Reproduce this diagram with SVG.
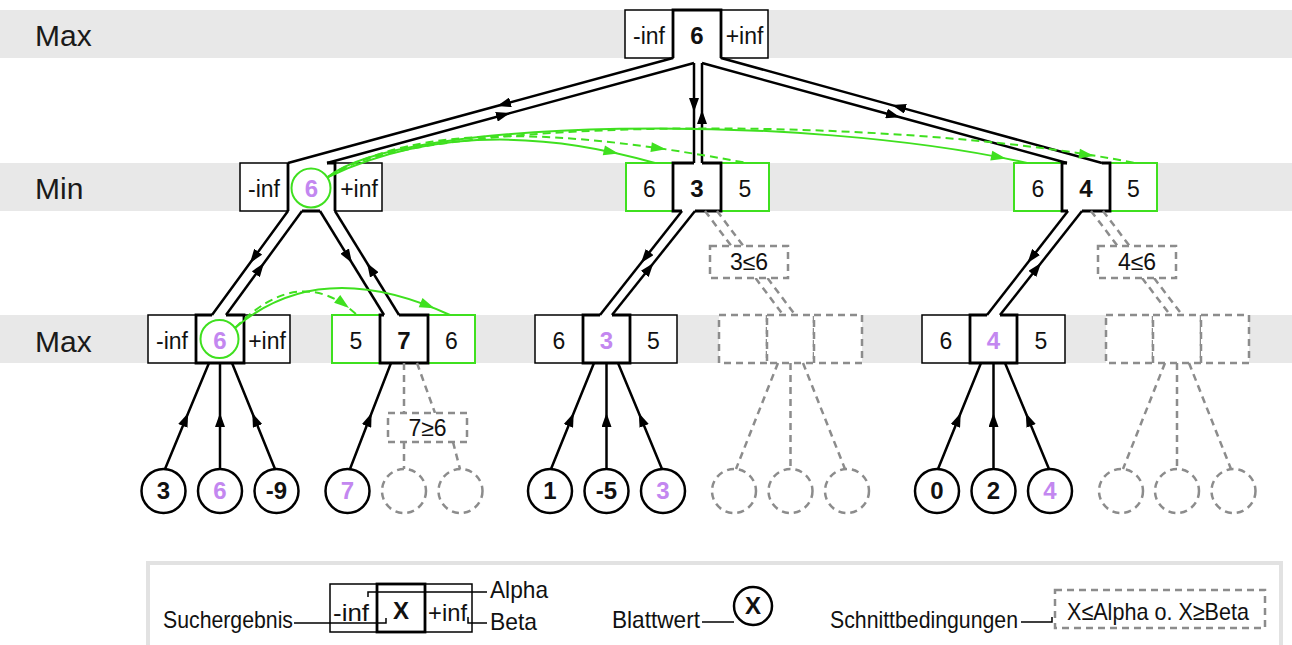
<svg xmlns="http://www.w3.org/2000/svg" xmlns:xlink="http://www.w3.org/1999/xlink" width="1292" height="645" viewBox="0 0 1292 645">
<style>
.band{fill:#e8e8e8}
.box{fill:#fff;stroke:#000;stroke-width:1.5}
.gbox{fill:#fff;stroke:#3fe01f;stroke-width:2}
.wf{fill:#fff}
.cb{fill:none;stroke:#000;stroke-width:2.8}
.dbox{fill:#fff;stroke:#8c8c8c;stroke-width:2.5;stroke-dasharray:7 5}
.t{font-family:"Liberation Sans",Arial,sans-serif;font-size:23px;text-anchor:middle;fill:#111}
.b{font-weight:bold;font-size:24px}
.p{fill:#c387f0}
.lbl{font-family:"Liberation Sans",Arial,sans-serif;font-size:30px;fill:#1a1a1a}
.lg{font-family:"Liberation Sans",Arial,sans-serif;font-size:24px;fill:#111}
.wall{fill:none;stroke:#000;stroke-width:2.5}
.leaf{fill:#fff;stroke:#000;stroke-width:2.5}
.dleaf{fill:#fff;stroke:#8c8c8c;stroke-width:2.5;stroke-dasharray:7 5}
.dl{fill:none;stroke:#8c8c8c;stroke-width:2.5;stroke-dasharray:7 5}
.g{fill:none;stroke:#3fe01f;stroke-width:2}
.gd{fill:none;stroke:#3fe01f;stroke-width:2;stroke-dasharray:8 5}
.thin{fill:none;stroke:#000;stroke-width:1.5}
</style>
<defs>
<marker id="ah" viewBox="0 0 14 10" refX="14" refY="5" markerWidth="14" markerHeight="10" markerUnits="userSpaceOnUse" orient="auto"><path d="M0,0 L14,5 L0,10 z" fill="#000"/></marker>
<path id="ga" d="M0,0 L-15,-5 L-15,5 z" fill="#3fe01f"/>
</defs>

<g id="bands">
<rect class="band" x="0" y="10" width="1292" height="48"/>
<rect class="band" x="0" y="163" width="1292" height="48"/>
<rect class="band" x="0" y="315" width="1292" height="48"/>
<text class="lbl" x="35" y="46">Max</text>
<text class="lbl" x="35" y="199">Min</text>
<text class="lbl" x="35" y="352">Max</text>
</g>

<g id="n-root">
<rect class="box" x="625" y="10" width="48" height="48"/>
<rect class="box" x="721" y="10" width="47" height="48"/>
<rect class="wf" x="673" y="10" width="48" height="48"/>
<path class="cb" d="M673,58 V10 H721 V58"/>
<text class="t" x="649" y="44">-inf</text>
<text class="t b" x="697" y="44">6</text>
<text class="t" x="744.5" y="44">+inf</text>
</g>

<g id="n-min-left">
<rect class="box" x="240" y="163" width="48" height="48"/>
<rect class="box" x="335" y="163" width="47" height="48"/>
<rect class="wf" x="288" y="163" width="47" height="48"/>
<path class="cb" d="M327,163 H335 V211 M320,211 H302 M288,211 V163"/>
<circle cx="311" cy="188" r="19.5" fill="none" stroke="#3fe01f" stroke-width="2"/>
<text class="t" x="264" y="197">-inf</text>
<text class="t b p" x="311.5" y="197">6</text>
<text class="t" x="359" y="197">+inf</text>
</g>

<g id="n-min-mid">
<rect class="gbox" x="626" y="163" width="47" height="48"/>
<rect class="gbox" x="721" y="163" width="48" height="48"/>
<rect class="wf" x="673" y="163" width="48" height="48"/>
<path class="cb" d="M694,163 H673 V211 H682 M695,211 H721 V163 H702"/>
<text class="t" x="649.5" y="197">6</text>
<text class="t b" x="697" y="197">3</text>
<text class="t" x="745" y="197">5</text>
</g>

<g id="n-min-right">
<rect class="gbox" x="1014" y="163" width="48" height="48"/>
<rect class="gbox" x="1110" y="163" width="47" height="48"/>
<rect class="wf" x="1062" y="163" width="48" height="48"/>
<path class="cb" d="M1067,163 H1062 V211 H1068 M1082,211 H1110 V163 H1102"/>
<text class="t" x="1038" y="197">6</text>
<text class="t b" x="1086" y="197">4</text>
<text class="t" x="1133.5" y="197">5</text>
</g>

<g id="n-max-1">
<rect class="box" x="148" y="315" width="48" height="48"/>
<rect class="box" x="244" y="315" width="46" height="48"/>
<rect class="wf" x="196" y="315" width="48" height="48"/>
<path class="cb" d="M212,315 H196 V363 H244 V315 H226"/>
<circle cx="219.5" cy="339" r="19" fill="none" stroke="#3fe01f" stroke-width="2"/>
<text class="t" x="172" y="349">-inf</text>
<text class="t b p" x="220" y="349">6</text>
<text class="t" x="267" y="349">+inf</text>
</g>

<g id="n-max-2">
<rect class="gbox" x="332" y="315" width="48" height="48"/>
<rect class="gbox" x="428" y="315" width="47" height="48"/>
<rect class="wf" x="380" y="315" width="48" height="48"/>
<path class="cb" d="M384,315 H380 V363 H428 V315 H399"/>
<text class="t" x="356" y="349">5</text>
<text class="t b" x="404" y="349">7</text>
<text class="t" x="451.5" y="349">6</text>
</g>

<g id="n-max-3">
<rect class="box" x="535" y="315" width="48" height="48"/>
<rect class="box" x="630" y="315" width="47" height="48"/>
<rect class="wf" x="583" y="315" width="47" height="48"/>
<path class="cb" d="M600,315 H583 V363 H630 V315 H612"/>
<text class="t" x="559" y="349">6</text>
<text class="t b p" x="606.5" y="349">3</text>
<text class="t" x="653.5" y="349">5</text>
</g>

<g id="n-max-4">
<rect class="dbox" x="719" y="315" width="48" height="48"/>
<rect class="dbox" x="767" y="315" width="47" height="48"/>
<rect class="dbox" x="814" y="315" width="48" height="48"/>
</g>

<g id="n-max-5">
<rect class="box" x="922" y="315" width="48" height="48"/>
<rect class="box" x="1017" y="315" width="48" height="48"/>
<rect class="wf" x="970" y="315" width="47" height="48"/>
<path class="cb" d="M987,315 H970 V363 H1017 V315 H1000"/>
<text class="t" x="946" y="349">6</text>
<text class="t b p" x="993.5" y="349">4</text>
<text class="t" x="1041" y="349">5</text>
</g>

<g id="n-max-6">
<rect class="dbox" x="1106" y="315" width="47" height="48"/>
<rect class="dbox" x="1153" y="315" width="48" height="48"/>
<rect class="dbox" x="1201" y="315" width="48" height="48"/>
</g>

<g id="leaves">
<g id="leaf-1"><circle class="leaf" cx="163.5" cy="491" r="22"/><text class="t b" x="163.5" y="499">3</text></g>
<g id="leaf-2"><circle class="leaf" cx="220" cy="491" r="22"/><text class="t b p" x="220" y="499">6</text></g>
<g id="leaf-3"><circle class="leaf" cx="276.5" cy="491" r="22"/><text class="t b" x="276.5" y="499">-9</text></g>
<g id="leaf-4"><circle class="leaf" cx="347.5" cy="491" r="22"/><text class="t b p" x="347.5" y="499">7</text></g>
<g id="leaf-5"><circle class="dleaf" cx="404" cy="491" r="22"/></g>
<g id="leaf-6"><circle class="dleaf" cx="460.5" cy="491" r="22"/></g>
<g id="leaf-7"><circle class="leaf" cx="550" cy="491" r="22"/><text class="t b" x="550" y="499">1</text></g>
<g id="leaf-8"><circle class="leaf" cx="606.5" cy="491" r="22"/><text class="t b" x="606.5" y="499">-5</text></g>
<g id="leaf-9"><circle class="leaf" cx="663" cy="491" r="22"/><text class="t b p" x="663" y="499">3</text></g>
<g id="leaf-10"><circle class="dleaf" cx="734" cy="491" r="22"/></g>
<g id="leaf-11"><circle class="dleaf" cx="790.5" cy="491" r="22"/></g>
<g id="leaf-12"><circle class="dleaf" cx="847" cy="491" r="22"/></g>
<g id="leaf-13"><circle class="leaf" cx="937" cy="491" r="22"/><text class="t b" x="937" y="499">0</text></g>
<g id="leaf-14"><circle class="leaf" cx="993.5" cy="491" r="22"/><text class="t b" x="993.5" y="499">2</text></g>
<g id="leaf-15"><circle class="leaf" cx="1050" cy="491" r="22"/><text class="t b p" x="1050" y="499">4</text></g>
<g id="leaf-16"><circle class="dleaf" cx="1121" cy="491" r="22"/></g>
<g id="leaf-17"><circle class="dleaf" cx="1177" cy="491" r="22"/></g>
<g id="leaf-18"><circle class="dleaf" cx="1233.5" cy="491" r="22"/></g>
</g>

<g id="connectors">
<polyline class="wall" marker-mid="url(#ah)" points="673,58 497,106 288,163"/>
<polyline class="wall" marker-mid="url(#ah)" points="327,163 510,113.1 694,63"/>
<polyline class="wall" marker-mid="url(#ah)" points="694,63 694,112 694,163"/>
<polyline class="wall" marker-mid="url(#ah)" points="702,163 702,110 702,63"/>
<polyline class="wall" marker-mid="url(#ah)" points="702,63 900,117.2 1067,163"/>
<polyline class="wall" marker-mid="url(#ah)" points="1102,163 892,105.1 721,58"/>
<polyline class="wall" marker-mid="url(#ah)" points="288,211 250,263 212,315"/>
<polyline class="wall" marker-mid="url(#ah)" points="226,315 264,263 302,211"/>
<polyline class="wall" marker-mid="url(#ah)" points="320,211 352,263 384,315"/>
<polyline class="wall" marker-mid="url(#ah)" points="399,315 367,263 335,211"/>
<polyline class="wall" marker-mid="url(#ah)" points="682,211 641,263 600,315"/>
<polyline class="wall" marker-mid="url(#ah)" points="612,315 653.5,263 695,211"/>
<polyline class="wall" marker-mid="url(#ah)" points="1068,211 1027.5,263 987,315"/>
<polyline class="wall" marker-mid="url(#ah)" points="1000,315 1041,263 1082,211"/>
<polyline class="wall" marker-mid="url(#ah)" points="165,469 188.2,413 209,363"/>
<polyline class="wall" marker-mid="url(#ah)" points="220,469 220,413 220,363"/>
<polyline class="wall" marker-mid="url(#ah)" points="275,469 252.3,413 232,363"/>
<polyline class="wall" marker-mid="url(#ah)" points="350,469 371.6,413 391,363"/>
<polyline class="wall" marker-mid="url(#ah)" points="551,469 573.7,413 594,363"/>
<polyline class="wall" marker-mid="url(#ah)" points="606.5,469 606.5,413 606.5,363"/>
<polyline class="wall" marker-mid="url(#ah)" points="662,469 638.8,413 618,363"/>
<polyline class="wall" marker-mid="url(#ah)" points="938,469 960.7,413 981,363"/>
<polyline class="wall" marker-mid="url(#ah)" points="993.5,469 993.5,413 993.5,363"/>
<polyline class="wall" marker-mid="url(#ah)" points="1049,469 1025.8,413 1005,363"/>
<line class="dl" x1="404" y1="363" x2="404" y2="413"/>
<line class="dl" x1="417" y1="363" x2="435" y2="413"/>
<line class="dl" x1="404" y1="442" x2="404" y2="469"/>
<line class="dl" x1="453" y1="442" x2="460" y2="469"/>
<line class="dl" x1="705" y1="211" x2="784" y2="316"/>
<line class="dl" x1="717" y1="211" x2="796" y2="316"/>
<line class="dl" x1="1091" y1="211" x2="1171" y2="316"/>
<line class="dl" x1="1103" y1="211" x2="1183" y2="316"/>
<line class="dl" x1="778" y1="363" x2="736" y2="469"/>
<line class="dl" x1="790.5" y1="363" x2="790.5" y2="469"/>
<line class="dl" x1="803" y1="363" x2="845" y2="469"/>
<line class="dl" x1="1165" y1="363" x2="1123" y2="469"/>
<line class="dl" x1="1177" y1="363" x2="1177" y2="469"/>
<line class="dl" x1="1189" y1="363" x2="1231" y2="469"/>
</g>

<g id="cuts">
<g id="cut-1"><rect class="dbox" x="388" y="413" width="79" height="29"/><text class="t" x="427.5" y="436" font-size="22">7≥6</text></g>
<g id="cut-2"><rect class="dbox" x="710" y="246" width="78" height="32"/><text class="t" x="749" y="270" font-size="22">3≤6</text></g>
<g id="cut-3"><rect class="dbox" x="1098" y="246" width="78" height="32"/><text class="t" x="1137" y="270" font-size="22">4≤6</text></g>
</g>

<g id="bounds-arrows">
<path class="g" d="M328,177 Q470,110 655,163"/>
<path class="gd" d="M328,177 C420,122 560,128 747,163"/>
<path class="g" d="M328,177 C400,118 800,112 1027,163"/>
<path class="gd" d="M328,177 C400,118 880,112 1135,163"/>
<path class="g" d="M235,328 Q320,255 450,315"/>
<path class="gd" d="M235,328 Q300,262 357,315"/>
<use xlink:href="#ga" href="#ga" transform="translate(618.5,153.6) rotate(12.8)"/>
<use xlink:href="#ga" href="#ga" transform="translate(666,149.3) rotate(8.4)"/>
<use xlink:href="#ga" href="#ga" transform="translate(1006,158.6) rotate(11.4)"/>
<use xlink:href="#ga" href="#ga" transform="translate(1094,156) rotate(9)"/>
<use xlink:href="#ga" href="#ga" transform="translate(434.5,308.3) rotate(22.2)"/>
<use xlink:href="#ga" href="#ga" transform="translate(349,308.1) rotate(37.9)"/>
</g>

<g id="legend">
<rect x="148" y="563" width="1133" height="100" fill="none" stroke="#e2e2e2" stroke-width="4"/>
<text class="lg" x="163" y="628" textLength="130" lengthAdjust="spacingAndGlyphs">Suchergebnis</text>
<rect class="box" x="330" y="584" width="47" height="48"/>
<rect class="box" x="425" y="584" width="47" height="48"/>
<rect x="377" y="584" width="48" height="48" fill="#fff" stroke="#000" stroke-width="2.8"/>
<polyline class="thin" points="294,623 386,623 386,618"/>
<polyline class="thin" points="368,597 368,592 487,592"/>
<polyline class="thin" points="468,617 468,623 487,623"/>
<text class="lg" x="333" y="621" font-size="22" textLength="36" lengthAdjust="spacingAndGlyphs">-inf</text>
<text class="lg" x="428" y="621" font-size="22" textLength="39" lengthAdjust="spacingAndGlyphs">+inf</text>
<text class="t b" x="401" y="619" font-size="26">X</text>
<text class="lg" x="490" y="598" textLength="58" lengthAdjust="spacingAndGlyphs">Alpha</text>
<text class="lg" x="490" y="630" textLength="47" lengthAdjust="spacingAndGlyphs">Beta</text>
<text class="lg" x="612" y="628" textLength="88" lengthAdjust="spacingAndGlyphs">Blattwert</text>
<line class="thin" x1="702" y1="622" x2="734" y2="622"/>
<circle class="leaf" cx="753" cy="606" r="19"/>
<text class="t b" x="753" y="614" font-size="24">X</text>
<text class="lg" x="830" y="628" textLength="188" lengthAdjust="spacingAndGlyphs">Schnittbedingungen</text>
<polyline class="thin" points="1021,622 1052,622 1052,617"/>
<rect class="dbox" x="1055" y="590" width="210" height="38" stroke-width="2.5"/>
<text class="lg" x="1067" y="620" font-size="23" textLength="182" lengthAdjust="spacingAndGlyphs">X≤Alpha o. X≥Beta</text>
</g>
</svg>
